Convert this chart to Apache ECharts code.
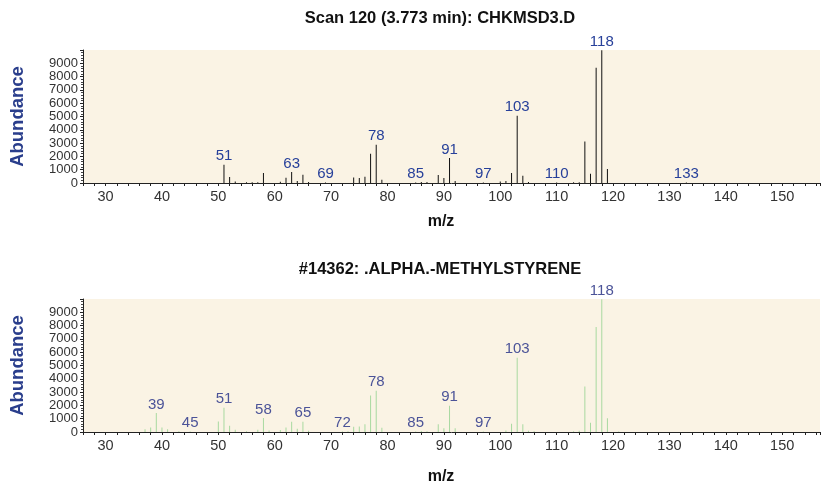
<!DOCTYPE html>
<html><head><meta charset="utf-8">
<script src="https://cdn.jsdelivr.net/npm/echarts@6/dist/echarts.min.js"></script>
<style>html,body{margin:0;padding:0;background:#fff}#c{width:823px;height:489px}</style>
</head><body><div id="c"></div>
<script>
// Top: measured scan spectrum
const scanMz    = [51,52,53,55,56,57,58,61,62,63,64,65,66,69,74,75,76,77,78,79,85,86,87,89,90,91,92,97,100,101,102,103,104,105,110,113,114,115,116,117,118,119,133];
const scanAbund = [1370,450,120,60,60,50,750,100,400,830,150,620,80,40,420,370,470,2200,2870,250,40,80,80,600,370,1875,150,40,120,150,750,5050,550,80,40,50,60,3120,690,8670,9990,1050,30];
const scanLabels = [51,63,69,78,85,91,97,103,110,118,133];

// Bottom: library spectrum
const libMz    = [37,38,39,40,41,43,45,50,51,52,53,55,57,58,59,61,62,63,64,65,66,72,73,74,75,76,77,78,79,85,86,87,89,90,91,92,97,101,102,103,104,105,106,113,114,115,116,117,118,119,121];
const libAbund = [200,330,1425,330,200,60,40,790,1825,475,175,50,175,1060,120,150,340,780,250,780,100,40,60,400,420,590,2740,3100,320,40,80,60,575,275,1975,275,40,120,625,5575,575,100,50,60,100,3425,700,7900,9990,1025,30];
const libLabels = [39,45,51,58,65,72,78,85,91,97,103,118];

const xTicks = [30,40,50,60,70,80,90,100,110,120,130,140,150];
const yTicks = [0,1000,2000,3000,4000,5000,6000,7000,8000,9000];

const FONT = 'Liberation Sans, Arial, Helvetica, sans-serif';
const chart = echarts.init(document.getElementById('c'));

function xAxis(gi) {
  return {
    type:'value', gridIndex:gi, min:26, max:156.7, interval:2,
    axisLine:{show:true, lineStyle:{color:'#222', width:1}},
    axisTick:{show:true, length:3, lineStyle:{color:'#222'}},
    splitLine:{show:false},
    axisLabel:{
      fontSize:14.5, color:'#333', fontFamily:FONT, margin:6, hideOverlap:false,
      formatter: v => { const r = Math.round(v); return (Math.abs(v-r)<1e-6 && xTicks.includes(r)) ? String(r) : ''; }
    }
  };
}
function yAxis(gi) {
  return {
    type:'value', gridIndex:gi, min:0, max:10000, interval:1000,
    name:'Abundance', nameLocation:'middle', nameGap:56, nameRotate:90,
    nameTextStyle:{fontSize:18.5, fontWeight:'bold', color:'#2a3e8c', fontFamily:FONT},
    axisLine:{show:true, lineStyle:{color:'#222', width:1}},
    axisTick:{show:true, length:3, lineStyle:{color:'#222'}},
    minorTick:{show:true, splitNumber:5, length:2, lineStyle:{color:'#444'}},
    splitLine:{show:false},
    axisLabel:{
      fontSize:13, color:'#333', fontFamily:FONT, margin:5,
      showMinLabel:true, hideOverlap:false,
      formatter: v => yTicks.includes(v) ? String(v) : ''
    }
  };
}
function barSeries(gi, mz, ab, labels, color, labelColor) {
  return {
    type:'bar', xAxisIndex:gi, yAxisIndex:gi,
    data: mz.map((m,i)=>[m, ab[i]]),
    barWidth:1, silent:true, animation:false,
    itemStyle:{color:color},
    label:{
      show:true, position:'top', distance:1, fontSize:15, color:labelColor, fontFamily:FONT,
      formatter: p => labels.includes(p.value[0]) ? String(p.value[0]) : ''
    }
  };
}

chart.setOption({
  animation:false,
  backgroundColor:'#ffffff',
  title:[
    {text:'Scan 120 (3.773 min): CHKMSD3.D', left:440, top:10, padding:0, textAlign:'center',
     textStyle:{fontSize:16.5, fontWeight:'bold', color:'#111', fontFamily:FONT}},
    {text:'m/z', left:441, top:214, padding:0, textAlign:'center',
     textStyle:{fontSize:16, fontWeight:'bold', color:'#111', fontFamily:FONT}},
    {text:'#14362: .ALPHA.-METHYLSTYRENE', left:440, top:261, padding:0, textAlign:'center',
     textStyle:{fontSize:16.5, fontWeight:'bold', color:'#111', fontFamily:FONT}},
    {text:'m/z', left:441, top:469, padding:0, textAlign:'center',
     textStyle:{fontSize:16, fontWeight:'bold', color:'#111', fontFamily:FONT}}
  ],
  grid:[
    {left:83, top:50, width:740, height:133, show:true, backgroundColor:'#faf3e4', borderWidth:0},
    {left:83, top:299, width:740, height:133, show:true, backgroundColor:'#faf3e4', borderWidth:0}
  ],
  xAxis:[xAxis(0), xAxis(1)],
  yAxis:[yAxis(0), yAxis(1)],
  series:[
    barSeries(0, scanMz, scanAbund, scanLabels, '#111111', '#27409a'),
    barSeries(1, libMz, libAbund, libLabels, '#a8d9a0', '#4b5398')
  ]
});
</script>
</body></html>
